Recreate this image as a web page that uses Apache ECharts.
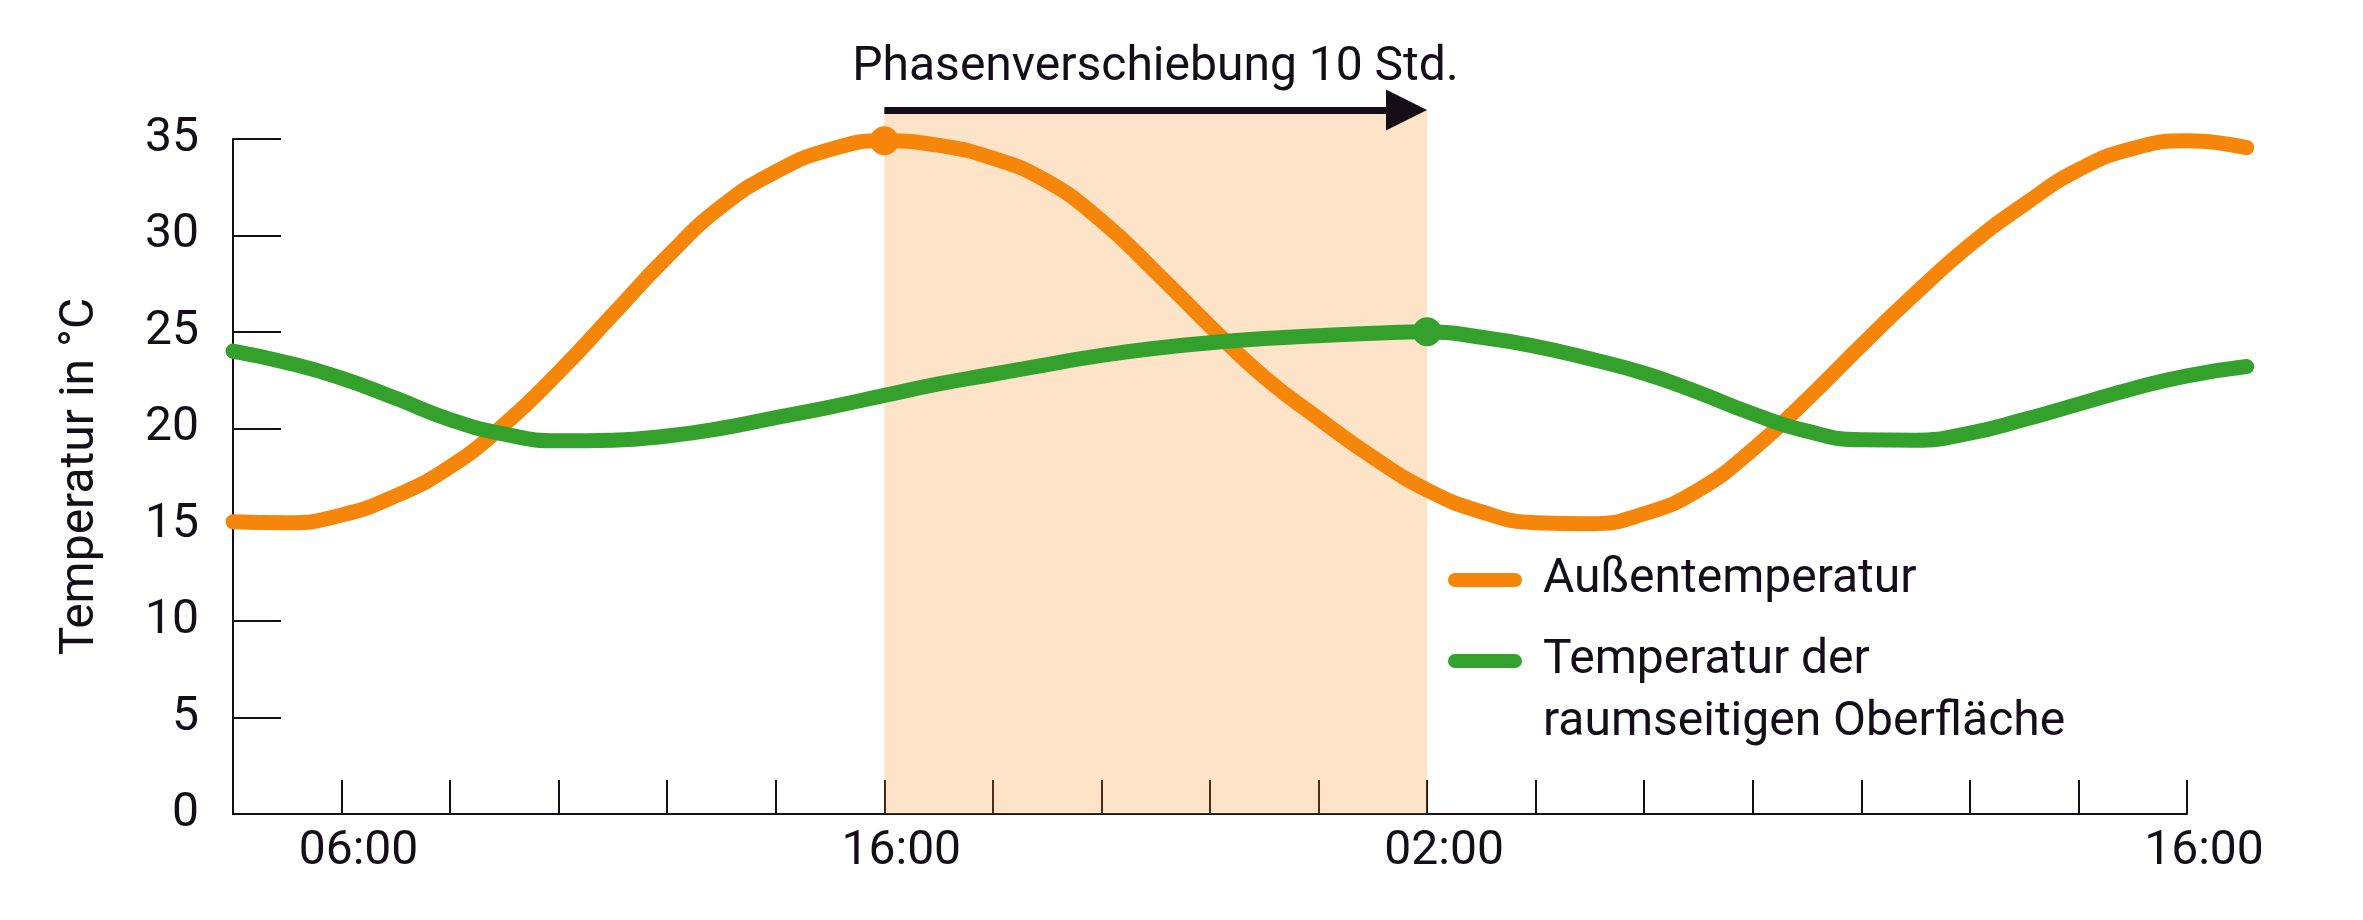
<!DOCTYPE html>
<html>
<head>
<meta charset="utf-8">
<title>Phasenverschiebung</title>
<script src="https://cdn.jsdelivr.net/npm/echarts@6/dist/echarts.min.js"></script>
<style>
    html, body { margin: 0; padding: 0; background: #fff; }
    #main { width: 2363px; height: 920px; }
</style>
</head>
<body>
<div id="main"></div>
<script>
// Stunden ab 04:00 des ersten Tages
var hours = [0, 1, 2, 3, 4, 5, 6, 7, 8, 9, 10, 11, 12, 13, 14, 15, 16, 17, 18,
    19, 20, 21, 22, 23, 24, 25, 26, 27, 28, 29, 30, 31, 32, 33, 34, 35, 36, 37.1];
var outdoorTemp = [15.15, 15.1, 15.5, 16.5, 18.0, 20.2, 22.9, 25.9, 28.9, 31.5, 33.3, 34.45, 34.9,
    34.67, 34.0, 32.8, 30.76, 28.1, 25.3, 22.65, 20.5, 18.5, 16.8, 15.67, 15.1, 15.05,
    15.57, 16.8, 18.9, 21.5, 24.3, 27.0, 29.5, 31.6, 33.4, 34.5, 34.9, 34.55];
var surfaceTemp = [24.0, 23.4, 22.6, 21.55, 20.45, 19.7, 19.35, 19.38, 19.6, 20.0, 20.55, 21.1, 21.7,
    22.3, 22.8, 23.3, 23.78, 24.15, 24.43, 24.65, 24.8, 24.92, 25.0, 24.72, 24.25, 23.6,
    22.85, 21.85, 20.75, 19.85, 19.4, 19.38, 19.75, 20.45, 21.25, 22.05, 22.72, 23.2];
var tickLabelHours = [2, 12, 22, 36];
var tickLabels = ['06:00', '16:00', '02:00', '16:00'];
var outdoorPeak = [12, 34.9];
var surfacePeak = [22, 25];
var shiftText = 'Phasenverschiebung 10 Std.';
var shiftLevel = 36.5;
var arrowHeadHours = 0.38;
var outdoorName = 'Außentemperatur';
var surfaceName = 'Temperatur der raumseitigen Oberfläche';
var surfaceLines = ['Temperatur der', 'raumseitigen Oberfläche'];

var ORANGE = '#F5860A';
var GREEN = '#34A12D';
var INK = '#150d18';
var FONT = 'Roboto';

window.onload = () => {
    var chartDom = document.getElementById('main');
    var myChart = echarts.init(chartDom);
    var option;

    var legendText = {
        fontFamily: FONT,
        fontSize: 48,
        color: INK,
        lineHeight: 62,
        padding: [0, 0, 0, 16]
    };
    var pill = 'path://M7,0L67,0A7,7,0,0,1,67,14L7,14A7,7,0,0,1,7,0Z';

    option = {
        animation: false,
        backgroundColor: '#fff',
        textStyle: { fontFamily: FONT, color: INK },
        grid: [{
            // sichtbare Achsen
            left: 233, right: 176, top: 139, bottom: 106, outerBoundsMode: 'none'
        }, {
            // gleiche Skala, aber etwas groesser: Kurven laufen ueber 16:00 hinaus,
            // Markierung und Pfeil reichen ueber 35 hinaus
            left: 233, right: 100, top: 110, bottom: 106, outerBoundsMode: 'none'
        }],
        legend: [{
            data: [outdoorName],
            left: 1448, top: 549, padding: 0,
            selectedMode: false,
            icon: pill, itemWidth: 74, itemHeight: 14,
            itemStyle: { borderWidth: 0 },
            textStyle: legendText
        }, {
            data: [surfaceName],
            left: 1448, top: 568, padding: 0,
            selectedMode: false,
            icon: pill, itemWidth: 74, itemHeight: 14,
            itemStyle: { borderWidth: 0 },
            textStyle: legendText,
            formatter: function () {
                return '\n' + surfaceLines.join('\n');
            }
        }],
        xAxis: [{
            type: 'value',
            min: 0, max: 36, interval: 2,
            axisLine: { lineStyle: { color: INK, width: 2 } },
            axisTick: { inside: true, length: 34, lineStyle: { color: INK, width: 2 } },
            splitLine: { show: false },
            axisLabel: {
                fontSize: 48, color: INK, fontFamily: FONT, margin: 14,
                padding: [0, 0, 0, 34],
                formatter: function (v) {
                    var i = tickLabelHours.indexOf(v);
                    return i < 0 ? '' : tickLabels[i];
                }
            }
        }, {
            gridIndex: 1, type: 'value', min: 0, max: 37.4, show: false
        }],
        yAxis: [{
            type: 'value',
            min: 0, max: 35, interval: 5,
            name: 'Temperatur in °C',
            nameLocation: 'middle',
            nameRotate: 90,
            nameGap: 128,
            nameTextStyle: { fontSize: 48, color: INK, fontFamily: FONT },
            axisLine: { show: true, lineStyle: { color: INK, width: 2 } },
            axisTick: { show: true, inside: true, length: 48, lineStyle: { color: INK, width: 2 } },
            splitLine: { show: false },
            axisLabel: { fontSize: 48, color: INK, fontFamily: FONT, margin: 34, padding: [8, 0, 0, 0] }
        }, {
            gridIndex: 1, type: 'value', min: 0, max: shiftLevel, show: false
        }],
        series: [{
            name: 'Phasenverschiebung',
            type: 'line',
            xAxisIndex: 1,
            yAxisIndex: 1,
            data: [],
            silent: true,
            markArea: {
                silent: true,
                itemStyle: { color: 'rgba(247,145,30,0.25)' },
                data: [[{ coord: [outdoorPeak[0], 0] }, { coord: [surfacePeak[0], shiftLevel] }]]
            },
            markLine: {
                silent: true,
                symbol: ['none', 'triangle'],
                symbolSize: 41,
                lineStyle: { type: 'solid', width: 7, color: INK },
                label: {
                    show: true, position: 'middle', formatter: shiftText,
                    fontSize: 48, color: INK, fontFamily: FONT, distance: 18,
                    padding: [0, 0, 0, 20]
                },
                emphasis: { disabled: true },
                data: [[
                    { coord: [outdoorPeak[0], shiftLevel] },
                    { coord: [surfacePeak[0] - arrowHeadHours, shiftLevel] }
                ]]
            }
        }, {
            name: outdoorName,
            type: 'line',
            xAxisIndex: 1,
            yAxisIndex: 1,
            data: hours.map((h, i) => [h, outdoorTemp[i]]),
            smooth: 0.5,
            symbol: 'none',
            clip: false,
            color: ORANGE,
            lineStyle: { width: 15, color: ORANGE, cap: 'round', join: 'round' },
            z: 3,
            markPoint: {
                symbol: 'circle', symbolSize: 29, silent: true,
                itemStyle: { color: ORANGE },
                label: { show: false },
                data: [{ coord: outdoorPeak }]
            }
        }, {
            name: surfaceName,
            type: 'line',
            xAxisIndex: 1,
            yAxisIndex: 1,
            data: hours.map((h, i) => [h, surfaceTemp[i]]),
            smooth: 0.5,
            symbol: 'none',
            clip: false,
            color: GREEN,
            lineStyle: { width: 15, color: GREEN, cap: 'round', join: 'round' },
            z: 4,
            markPoint: {
                symbol: 'circle', symbolSize: 29, silent: true,
                itemStyle: { color: GREEN },
                label: { show: false },
                data: [{ coord: surfacePeak }]
            }
        }]
    };
    option && myChart.setOption(option);
}
</script>
</body>
</html>
